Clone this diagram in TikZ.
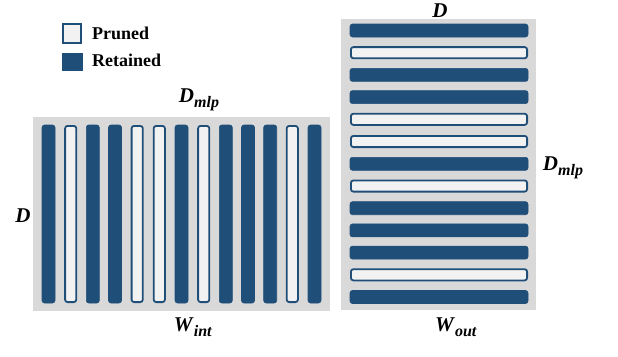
\documentclass[tikz,border=0pt]{standalone}
\usepackage{fontspec}
\setmainfont{Liberation Serif}
\usetikzlibrary{positioning}
\definecolor{barblue}{RGB}{31,78,121}
\definecolor{boxgray}{RGB}{217,217,217}
\definecolor{prunedfill}{RGB}{242,242,242}
\newcommand{\dimlabel}[2]{\textbf{\textit{#1}}\raisebox{-0.26em}{\fontsize{16}{16}\selectfont\textbf{\textit{#2}}}}

\begin{document}
\begin{tikzpicture}[
    x=1pt, y=-1pt,
    retained/.style={
        fill=barblue,
        draw=barblue,
        line width=0.6pt,
        rounded corners=2.5pt
    },
    pruned/.style={
        fill=prunedfill,
        draw=barblue,
        line width=1.8pt,
        rounded corners=2.5pt
    },
    matrixbox/.style={
        fill=boxgray,
        draw=none
    },
    dimtext/.style={
        inner sep=0pt,
        font=\fontsize{21}{25}\selectfont
    },
    legendtext/.style={
        anchor=base west,
        inner sep=0pt,
        font=\fontsize{18}{21}\selectfont\bfseries
    }
]
\useasboundingbox (0,0) rectangle (618,356);

% Legend
\draw[pruned, line width=2pt, rounded corners=0pt] (63,24) rectangle (81,43);
\draw[retained, rounded corners=0pt] (62,53) rectangle (82,70);
\node[legendtext] (lgpruned)   at (92,39.5) {Pruned};
\node[legendtext] (lgretained) at (92,66.5) {Retained};

% W_int: column-wise pruning
\fill[matrixbox] (33,117) rectangle (330,311);
\draw[retained] (42.0,125) rectangle (55.0,303);
\draw[pruned]   (65.1,125.9) rectangle (76.3,302.1);
\draw[retained] (86.3,125) rectangle (99.3,303);
\draw[retained] (108.5,125) rectangle (121.5,303);
\draw[pruned]   (131.6,125.9) rectangle (142.8,302.1);
\draw[pruned]   (153.7,125.9) rectangle (164.9,302.1);
\draw[retained] (175.0,125) rectangle (188.0,303);
\draw[pruned]   (198.1,125.9) rectangle (209.3,302.1);
\draw[retained] (219.3,125) rectangle (232.3,303);
\draw[retained] (241.5,125) rectangle (254.5,303);
\draw[retained] (263.7,125) rectangle (276.7,303);
\draw[pruned]   (286.7,125.9) rectangle (297.9,302.1);
\draw[retained] (308.0,125) rectangle (321.0,303);

\node[dimtext] (dmlpint) at (199,100) {\dimlabel{D}{mlp}};
\node[dimtext] (dint)    at (23,216)  {\textbf{\textit{D}}};
\node[dimtext] (wint)    at (193,327) {\dimlabel{W}{int}};

% W_out: row-wise pruning
\fill[matrixbox] (341,19) rectangle (536,310);
\draw[retained] (350,24.0) rectangle (528,37.0);
\draw[pruned]   (350.9,47.1) rectangle (527.1,58.3);
\draw[retained] (350,68.4) rectangle (528,81.4);
\draw[retained] (350,90.6) rectangle (528,103.6);
\draw[pruned]   (350.9,113.7) rectangle (527.1,124.9);
\draw[pruned]   (350.9,135.9) rectangle (527.1,147.1);
\draw[retained] (350,157.3) rectangle (528,170.3);
\draw[pruned]   (350.9,180.4) rectangle (527.1,191.6);
\draw[retained] (350,201.7) rectangle (528,214.7);
\draw[retained] (350,223.9) rectangle (528,236.9);
\draw[retained] (350,246.1) rectangle (528,259.1);
\draw[pruned]   (350.9,269.2) rectangle (527.1,280.4);
\draw[retained] (350,290.5) rectangle (528,303.5);

\node[dimtext] (dout)    at (440,10.5) {\textbf{\textit{D}}};
\node[dimtext] (dmlpout) at (563,168)  {\dimlabel{D}{mlp}};
\node[dimtext] (wout)    at (456,327)  {\dimlabel{W}{out}};
\end{tikzpicture}
\end{document}
